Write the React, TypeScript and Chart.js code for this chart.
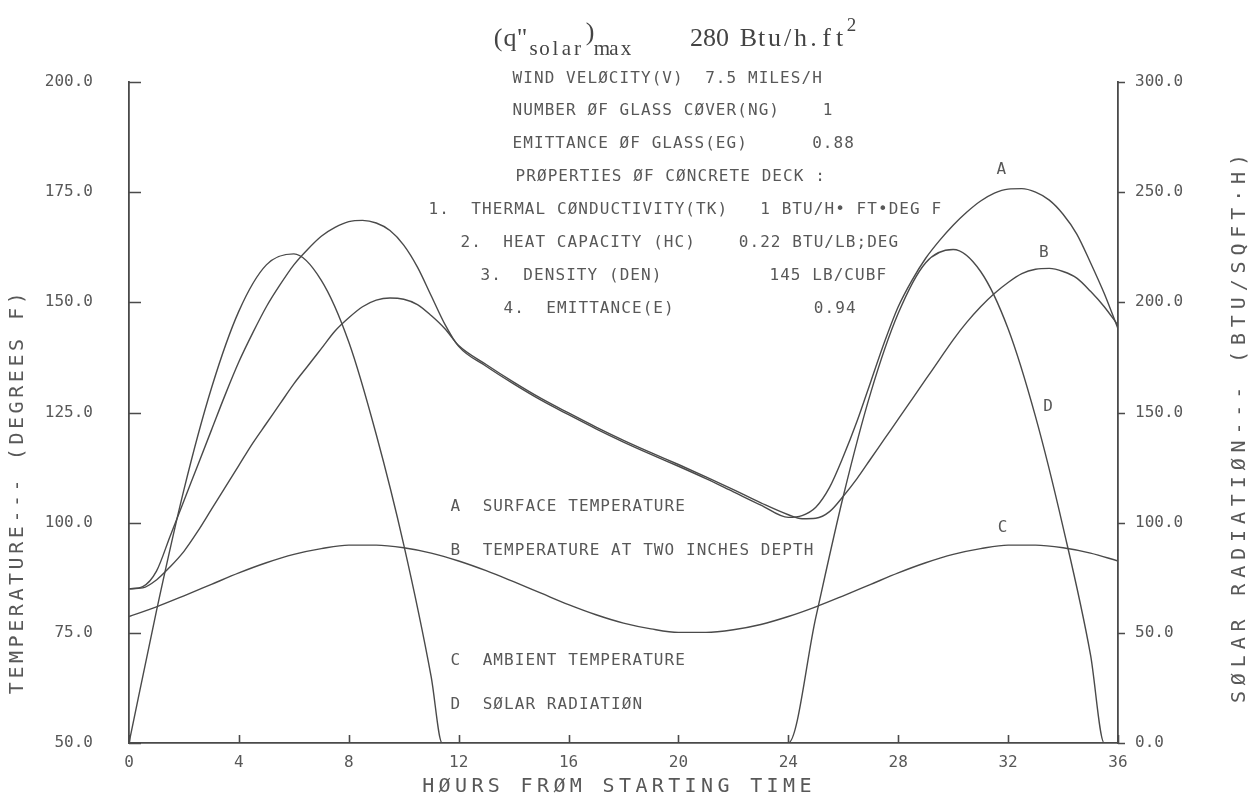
import { useEffect, useRef } from 'react';
import { Chart, registerables } from 'chart.js';

Chart.register(...registerables);

// Hours shared by the two concrete-deck temperature curves
const deckHours = [
  0, 0.5, 1, 1.5, 2, 2.5, 3, 3.5, 4, 4.5, 5, 5.5, 6, 6.5, 7, 7.5, 8, 8.5, 9, 9.5, 10, 10.5, 11, 11.5, 12,
  13, 14, 15, 16, 17, 18, 19, 20, 21, 22, 23,
  24, 24.5, 25, 25.5, 26, 26.5, 27, 27.5, 28, 28.5, 29, 29.5, 30, 30.5, 31, 31.5, 32, 32.5, 33, 33.5, 34, 34.5, 35, 35.5, 36,
];

// A: surface temperature (deg F)
const surfaceTemp = [
  85, 85.5, 89, 97, 105, 113, 121, 129, 136.5, 143, 149, 154, 158.5, 162, 165, 167, 168.3, 168.6, 168, 166.3, 163, 158, 151.5, 145, 140,
  135.5, 131.5, 127.8, 124.5, 121.3, 118.3, 115.5, 112.8, 110, 107, 104,
  101.2, 101.6, 103.5, 108, 115, 123, 132, 141, 149, 155, 160, 164, 167.5, 170.5, 173, 174.8, 175.7, 175.8, 175, 173.2, 170, 165.5, 159, 152, 144,
];

// B: temperature at two inches depth (deg F)
const depthTemp = [
  85, 85.2, 87, 90, 93.5, 98, 103, 108, 113, 118, 122.5, 127, 131.5, 135.5, 139.5, 143.5, 146.5, 149, 150.5, 151, 150.7, 149.5, 147, 144, 140.2,
  135.9, 131.9, 128.2, 124.9, 121.7, 118.7, 115.9, 113.2, 110.4, 107.5, 104.5,
  101.8, 100.9, 101, 102.5, 106, 110, 114.5, 119, 123.5, 128, 132.5, 137, 141.5, 145.5, 149, 152, 154.5, 156.5, 157.5, 157.7, 157, 155.5, 152.5, 149, 144.8,
];

// C: ambient temperature (deg F), hourly
const ambientHours = [
  0, 1, 2, 3, 4, 5, 6, 7, 8, 9, 10, 11, 12, 13, 14, 15, 16, 17, 18,
  19, 20, 21, 22, 23, 24, 25, 26, 27, 28, 29, 30, 31, 32, 33, 34, 35, 36,
];
const ambientTemp = [
  78.7, 80.9, 83.4, 86.0, 88.6, 90.9, 92.8, 94.1, 94.9, 94.9, 94.3, 93.1, 91.3, 89.1, 86.6, 84.0, 81.4, 79.1, 77.2,
  75.9, 75.1, 75.1, 75.7, 76.9, 78.7, 80.9, 83.4, 86.0, 88.6, 90.9, 92.8, 94.1, 94.9, 94.9, 94.3, 93.1, 91.3,
];

// D: solar radiation (BTU/SQFT.H)
const solarHours = [0, 1, 2, 3, 4, 5, 6, 7, 8, 9, 10, 11, 11.4, 24, 25, 26, 27, 28, 29, 30, 31, 32, 33, 34, 35, 35.5, 36];
const solarRad = [0, 60, 115, 161, 196, 217, 222, 210, 182, 140, 90, 30, 0, 0, 57, 112, 159, 195, 218, 224, 214, 188, 148, 98, 40, 0, 0];

// Axis ranges and ticks
const hourTicks = [0, 4, 8, 12, 16, 20, 24, 28, 32, 36];
const tempRange = [50, 200];
const radRange = [0, 300];

// Curve letters placed in data coordinates (hour, deg F)
const curveTags = [
  { text: 'A', hour: 31.75, temp: 180.0 },
  { text: 'B', hour: 33.3, temp: 161.2 },
  { text: 'D', hour: 33.45, temp: 126.3 },
  { text: 'C', hour: 31.8, temp: 98.8 },
];

const infoLines = [
  { text: 'WIND VELØCITY(V)  7.5 MILES/H', x: 512, y: 79 },
  { text: 'NUMBER ØF GLASS CØVER(NG)    1', x: 512, y: 111 },
  { text: 'EMITTANCE ØF GLASS(EG)      0.88', x: 512, y: 144 },
  { text: 'PRØPERTIES ØF CØNCRETE DECK :', x: 515, y: 177 },
  { text: '1.  THERMAL CØNDUCTIVITY(TK)   1 BTU/H• FT•DEG F', x: 428, y: 210 },
  { text: '2.  HEAT CAPACITY (HC)    0.22 BTU/LB;DEG', x: 460, y: 243 },
  { text: '3.  DENSITY (DEN)          145 LB/CUBF', x: 480, y: 276 },
  { text: '4.  EMITTANCE(E)             0.94', x: 503, y: 309 },
];

const legendLines = [
  { text: 'A  SURFACE TEMPERATURE', y: 507 },
  { text: 'B  TEMPERATURE AT TWO INCHES DEPTH', y: 551 },
  { text: 'C  AMBIENT TEMPERATURE', y: 661 },
  { text: 'D  SØLAR RADIATIØN', y: 705 },
];

const INK = '#4a4a4a';
const TEXT_INK = '#585858';
const PLOT_FONT = '"DejaVu Sans Mono", monospace';
const TYPE_FONT = '"Liberation Serif", serif';

// draws a string on a fixed character pitch, like a pen plotter
function spacedText(ctx: CanvasRenderingContext2D, text: string, x: number, y: number, pitch: number) {
  for (let i = 0; i < text.length; i++) {
    const ch = text[i];
    if (ch !== ' ') ctx.fillText(ch, x + i * pitch + pitch / 2, y);
  }
}

const plotterDecor = {
  id: 'plotterDecor',
  afterDraw(chart: any) {
    const ctx: CanvasRenderingContext2D = chart.ctx;
    const { x, y, y2 } = chart.scales;
    ctx.save();

    // tick marks: inward on left and bottom, outward on right
    ctx.strokeStyle = INK;
    ctx.lineWidth = 1.6;
    ctx.beginPath();
    y.ticks.forEach((t: any) => {
      const py = Math.round(y.getPixelForValue(t.value)) + 0.5;
      ctx.moveTo(y.right, py);
      ctx.lineTo(y.right + 12, py);
    });
    x.ticks.forEach((t: any) => {
      const px = Math.round(x.getPixelForValue(t.value)) + 0.5;
      ctx.moveTo(px, x.top);
      ctx.lineTo(px, x.top - 8);
    });
    y2.ticks.forEach((t: any) => {
      const py = Math.round(y2.getPixelForValue(t.value)) + 0.5;
      ctx.moveTo(y2.left, py);
      ctx.lineTo(y2.left + 7, py);
    });
    ctx.stroke();

    ctx.fillStyle = TEXT_INK;
    ctx.textAlign = 'center';
    ctx.textBaseline = 'middle';

    // parameter block and legend
    ctx.font = `16px ${PLOT_FONT}`;
    infoLines.forEach((l) => spacedText(ctx, l.text, l.x, l.y, 10.7));
    legendLines.forEach((l) => spacedText(ctx, l.text, 450, l.y, 10.7));

    // curve letters
    curveTags.forEach((t) => {
      ctx.fillText(t.text, x.getPixelForValue(t.hour), y.getPixelForValue(t.temp));
    });

    // axis titles
    ctx.font = `20px ${PLOT_FONT}`;
    spacedText(ctx, 'HØURS FRØM STARTING TIME', 420, 787, 16.4);
    ctx.save();
    ctx.translate(18, 696);
    ctx.rotate(-Math.PI / 2);
    spacedText(ctx, 'TEMPERATURE--- (DEGREES F)', 0, 0, 15.6);
    ctx.restore();
    ctx.save();
    ctx.translate(1240, 706);
    ctx.rotate(-Math.PI / 2);
    spacedText(ctx, 'SØLAR RADIATIØN--- (BTU/SQFT·H)', 0, 0, 17.9);
    ctx.restore();

    // heading: (q"solar)max  280 Btu/h.ft^2
    ctx.fillStyle = '#444';
    ctx.textBaseline = 'alphabetic';
    ctx.font = `26px ${TYPE_FONT}`;
    spacedText(ctx, '(q"', 492, 46, 12);
    ctx.font = `21px ${TYPE_FONT}`;
    spacedText(ctx, 'solar', 528, 55, 11);
    ctx.font = `26px ${TYPE_FONT}`;
    spacedText(ctx, ')', 584, 40, 12);
    ctx.font = `21px ${TYPE_FONT}`;
    spacedText(ctx, 'max', 596, 55, 12);
    ctx.font = `26px ${TYPE_FONT}`;
    spacedText(ctx, '280 Btu/h.ft', 690, 46, 13);
    ctx.font = `19px ${TYPE_FONT}`;
    spacedText(ctx, '2', 846, 31, 11);

    ctx.restore();
  },
};

export default function App() {
  const canvasRef = useRef<HTMLCanvasElement | null>(null);

  useEffect(() => {
    const canvas = canvasRef.current;
    if (!canvas) return;

    const pts = (xs: number[], ys: number[]) => xs.map((h, i) => ({ x: h, y: ys[i] }));
    const lineStyle = {
      borderColor: INK,
      borderWidth: 1.4,
      pointRadius: 0,
      fill: false,
      cubicInterpolationMode: 'monotone' as const,
    };
    const tickFont = { family: PLOT_FONT, size: 16 };

    const chart = new Chart(canvas, {
      type: 'line',
      data: {
        datasets: [
          { label: 'A', data: pts(deckHours, surfaceTemp), yAxisID: 'y', ...lineStyle },
          { label: 'B', data: pts(deckHours, depthTemp), yAxisID: 'y', ...lineStyle },
          { label: 'C', data: pts(ambientHours, ambientTemp), yAxisID: 'y', ...lineStyle },
          { label: 'D', data: pts(solarHours, solarRad), yAxisID: 'y2', ...lineStyle },
        ],
      },
      options: {
        responsive: false,
        devicePixelRatio: 1,
        animation: false,
        layout: { padding: { top: 82, left: 0, right: 0, bottom: 0 } },
        plugins: {
          legend: { display: false },
          tooltip: { enabled: false },
        },
        scales: {
          x: {
            type: 'linear',
            min: 0,
            max: 36,
            afterFit: (s: any) => {
              s.height = 62;
            },
            afterBuildTicks: (s: any) => {
              s.ticks = hourTicks.map((v) => ({ value: v }));
            },
            ticks: { color: TEXT_INK, font: tickFont, padding: 10, maxRotation: 0, autoSkip: false },
            grid: { display: true, drawOnChartArea: false, drawTicks: false },
            border: { display: true, color: INK, width: 1.8 },
          },
          y: {
            type: 'linear',
            position: 'left',
            min: tempRange[0],
            max: tempRange[1],
            afterFit: (s: any) => {
              s.width = 129;
            },
            ticks: {
              stepSize: 25,
              color: TEXT_INK,
              font: tickFont,
              padding: 36,
              callback: (v: any) => Number(v).toFixed(1),
            },
            grid: { display: true, drawOnChartArea: false, drawTicks: false },
            border: { display: true, color: INK, width: 1.8 },
          },
          y2: {
            type: 'linear',
            position: 'right',
            min: radRange[0],
            max: radRange[1],
            afterFit: (s: any) => {
              s.width = 141;
            },
            ticks: {
              stepSize: 50,
              color: TEXT_INK,
              font: tickFont,
              padding: 17,
              callback: (v: any) => Number(v).toFixed(1),
            },
            grid: { display: true, drawOnChartArea: false, drawTicks: false },
            border: { display: true, color: INK, width: 1.8 },
          },
        },
      },
      plugins: [plotterDecor],
    });

    return () => chart.destroy();
  }, []);

  return (
    <div style={{ position: 'fixed', left: 0, top: 0, width: 1259, height: 805, background: '#fff' }}>
      <canvas ref={canvasRef} width={1259} height={805} style={{ display: 'block' }} />
    </div>
  );
}
